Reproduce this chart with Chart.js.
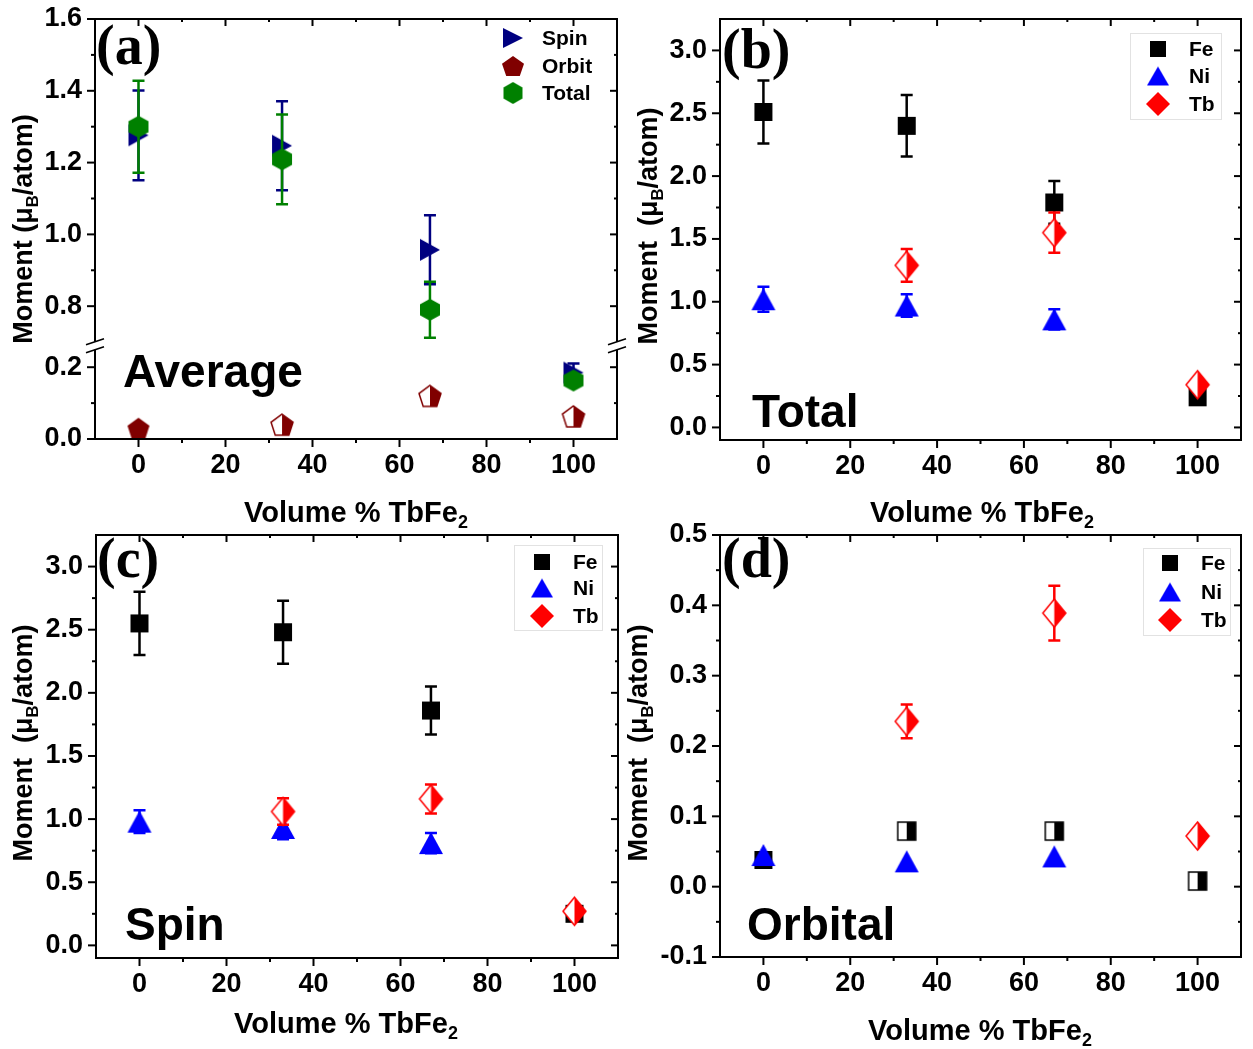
<!DOCTYPE html>
<html>
<head>
<meta charset="utf-8">
<script src="https://cdn.jsdelivr.net/npm/chart.js@4.4.1/dist/chart.umd.min.js"></script>
<style>
  html, body { margin: 0; padding: 0; background: #fff; }
  body { width: 1253px; height: 1049px; position: relative; overflow: hidden; }
  canvas { position: absolute; left: 0; top: 0; }
</style>
</head>
<body>
<canvas id="chartA" width="1253" height="1049"></canvas>
<canvas id="chartB" width="1253" height="1049"></canvas>
<canvas id="chartC" width="1253" height="1049"></canvas>
<canvas id="chartD" width="1253" height="1049"></canvas>
<script>
// ---- data (volume % TbFe2 on x) ----
const volumePct = [0, 33, 67, 100];
const halfFilled = [false, true, true, true];   // open-left / filled-right symbols

// (a) average
const avgSpin     = [1.276, 1.247, 0.957, 0.185];
const avgSpinErr  = [0.125, 0.124, 0.096, 0.025];
const avgOrbit    = [0.030, 0.040, 0.120, 0.063];
const avgTotal    = [1.300, 1.209, 0.790, 0.163];
const avgTotalErr = [0.128, 0.125, 0.078, 0.015];

// (b) total
const totFe    = [2.51, 2.40, 1.79, 0.24];
const totFeErr = [0.25, 0.245, 0.17, 0];
const totNi    = [1.02, 0.97, 0.86, null];
const totNiErr = [0.10, 0.09, 0.08, 0];
const totTb    = [null, 1.29, 1.55, 0.34];
const totTbErr = [0, 0.13, 0.16, 0];

// (c) spin
const spinFe    = [2.55, 2.48, 1.86, 0.25];
const spinFeErr = [0.25, 0.25, 0.19, 0];
const spinNi    = [0.98, 0.93, 0.81, null];
const spinNiErr = [0.09, 0.09, 0.08, 0];
const spinTb    = [null, 1.06, 1.16, 0.27];
const spinTbErr = [0, 0.105, 0.115, 0];

// (d) orbital
const orbFe    = [0.038, 0.079, 0.079, 0.008];
const orbNi    = [0.045, 0.036, 0.043, null];
const orbTb    = [null, 0.235, 0.389, 0.072];
const orbTbErr = [0, 0.024, 0.039, 0];

// ---- ticks ----
const xTickValues  = [0, 20, 40, 60, 80, 100];
const xMinorValues = [10, 30, 50, 70, 90];
const yHighTicks = [0.8, 1.0, 1.2, 1.4, 1.6];
const yHighMinor = [0.9, 1.1, 1.3, 1.5];
const yLowTicks  = [0.0, 0.2];
const yLowMinor  = [0.1];
const yMomTicks  = [0.0, 0.5, 1.0, 1.5, 2.0, 2.5, 3.0];
const yMomMinor  = [0.25, 0.75, 1.25, 1.75, 2.25, 2.75];
const yOrbTicks  = [-0.1, 0.0, 0.1, 0.2, 0.3, 0.4, 0.5];
const yOrbMinor  = [-0.05, 0.05, 0.15, 0.25, 0.35, 0.45];

const PAGE_W = 1253, PAGE_H = 1049;
const SANS = '"Liberation Sans", Arial, sans-serif';
const SERIF = '"Liberation Serif", "Times New Roman", serif';
const tickFont = { family: SANS, size: 27, weight: 'bold' };

const NAVY = '#000080', MAROON = '#800000', GREEN = '#008000';
const BLACK = '#000000', BLUE = '#0000ff', RED = '#ff0000';

// ---- symbols drawn into small canvases, used as pointStyle ----
function tracePath(ctx, shape, w, h) {
  ctx.beginPath();
  if (shape === 'square') {
    ctx.rect(0, 0, w, h);
  } else if (shape === 'triangle') {
    ctx.moveTo(w / 2, 0); ctx.lineTo(w, h); ctx.lineTo(0, h);
  } else if (shape === 'rtriangle') {
    ctx.moveTo(0, 0); ctx.lineTo(w, h / 2); ctx.lineTo(0, h);
  } else if (shape === 'diamond') {
    ctx.moveTo(w / 2, 0); ctx.lineTo(w, h / 2); ctx.lineTo(w / 2, h); ctx.lineTo(0, h / 2);
  } else {
    const n = shape === 'pentagon' ? 5 : 6;
    const pts = [];
    for (let k = 0; k < n; k++) {
      const a = -Math.PI / 2 + k * 2 * Math.PI / n;
      pts.push([Math.cos(a), Math.sin(a)]);
    }
    const xs = pts.map(p => p[0]), ys = pts.map(p => p[1]);
    const x0 = Math.min(...xs), x1 = Math.max(...xs), y0 = Math.min(...ys), y1 = Math.max(...ys);
    pts.forEach((p, k) => {
      const px = (p[0] - x0) / (x1 - x0) * w, py = (p[1] - y0) / (y1 - y0) * h;
      if (k) ctx.lineTo(px, py); else ctx.moveTo(px, py);
    });
  }
  ctx.closePath();
}

function makeMarker(shape, color, w, h, half) {
  const pad = 2;
  const c = document.createElement('canvas');
  c.width = w + pad * 2; c.height = h + pad * 2;
  const ctx = c.getContext('2d');
  ctx.translate(pad, pad);
  tracePath(ctx, shape, w, h);
  if (half) {
    ctx.fillStyle = '#fff';
    ctx.fill();
    ctx.save();
    ctx.clip();
    ctx.fillStyle = color;
    ctx.fillRect(w / 2, -pad, w, h + pad * 2);
    ctx.restore();
    tracePath(ctx, shape, w, h);
    ctx.strokeStyle = color;
    ctx.lineWidth = 1.5;
    ctx.stroke();
  } else {
    ctx.fillStyle = color;
    ctx.fill();
  }
  return c;
}

const sym = {
  spin:  makeMarker('rtriangle', NAVY, 20, 22),
  orbit: makeMarker('pentagon', MAROON, 22, 21),
  orbitHalf: makeMarker('pentagon', MAROON, 22, 21, true),
  total: makeMarker('hexagon', GREEN, 20, 22),
  fe: makeMarker('square', BLACK, 18, 18),
  feHalf: makeMarker('square', BLACK, 18, 18, true),
  ni: makeMarker('triangle', BLUE, 24, 22),
  tb: makeMarker('diamond', RED, 23, 28),
  tbHalf: makeMarker('diamond', RED, 23, 28, true)
};
const legSym = {
  spin: makeMarker('rtriangle', NAVY, 20, 20),
  orbit: makeMarker('pentagon', MAROON, 22, 20),
  total: makeMarker('hexagon', GREEN, 19, 22),
  fe: makeMarker('square', BLACK, 16, 16),
  ni: makeMarker('triangle', BLUE, 22, 19),
  tb: makeMarker('diamond', RED, 24, 24)
};

// ---- datasets ----
function series(values, errors, keep) {
  const pts = [];
  values.forEach((v, i) => {
    if (v === null || (keep && !keep(v))) return;
    pts.push({ x: volumePct[i], y: v, err: errors ? errors[i] : 0, half: halfFilled[i] });
  });
  return pts;
}

function dataset(label, data, color, full, half, order, yAxisID) {
  return {
    label, data, order, yAxisID: yAxisID || 'y',
    errorColor: color,
    showLine: false, clip: false,
    pointRadius: 11,
    pointStyle: c => (c.raw && c.raw.half && half) ? half : full
  };
}

// ---- plugins ----
const errorBars = {
  id: 'errorBars',
  beforeDatasetDraw(chart, args) {
    const ds = chart.data.datasets[args.index];
    const meta = args.meta;
    const yScale = chart.scales[meta.yAxisID];
    const ctx = chart.ctx;
    ctx.save();
    ctx.strokeStyle = ds.errorColor;
    ctx.lineWidth = 2.5;
    ds.data.forEach((p, i) => {
      if (!p.err) return;
      const x = meta.data[i].x;
      const top = yScale.getPixelForValue(p.y + p.err);
      const bot = yScale.getPixelForValue(p.y - p.err);
      ctx.beginPath();
      ctx.moveTo(x, top); ctx.lineTo(x, bot);
      ctx.moveTo(x - 6, top); ctx.lineTo(x + 6, top);
      ctx.moveTo(x - 6, bot); ctx.lineTo(x + 6, bot);
      ctx.stroke();
    });
    ctx.restore();
  }
};

const frameTicks = {
  id: 'frameTicks',
  afterDraw(chart, args, opts) {
    const { ctx, chartArea: a } = chart;
    const seg = (x1, y1, x2, y2) => { ctx.beginPath(); ctx.moveTo(x1, y1); ctx.lineTo(x2, y2); ctx.stroke(); };
    ctx.save();
    ctx.strokeStyle = '#000';
    ctx.lineWidth = 2;
    seg(a.left - 1, a.top, a.right + 1, a.top);
    seg(a.left - 1, a.bottom, a.right + 1, a.bottom);

    if (opts.breakBetween) {
      const bd = chart.scales[opts.breakBetween[0]].bottom;
      [a.left, a.right].forEach(x => {
        seg(x, a.top, x, bd - 4);
        seg(x, bd + 4, x, a.bottom);
        ctx.lineWidth = 1.6;
        seg(x - 9, bd - 1, x + 9, bd - 7);
        seg(x - 9, bd + 7, x + 9, bd + 1);
        ctx.lineWidth = 2;
      });
    } else {
      seg(a.left, a.top, a.left, a.bottom);
      seg(a.right, a.top, a.right, a.bottom);
    }

    const xs = chart.scales.x;
    const xTick = (v, len) => {
      const px = xs.getPixelForValue(v);
      seg(px, a.bottom, px, a.bottom + len);
      seg(px, a.top, px, a.top + len - 1);
    };
    xTickValues.forEach(v => xTick(v, 8));
    xMinorValues.forEach(v => xTick(v, 4));

    opts.yAxes.forEach(ax => {
      const sc = chart.scales[ax.id];
      const yTick = (v, len) => {
        const py = sc.getPixelForValue(v);
        seg(a.left - len, py, a.left, py);
        seg(a.right - len + 1, py, a.right, py);
      };
      ax.major.forEach(v => yTick(v, 8));
      ax.minor.forEach(v => yTick(v, 4));
    });
    ctx.restore();
  }
};

function drawRich(ctx, parts, x, y, size, rotate) {
  const font = s => `bold ${s}px ${SANS}`;
  ctx.save();
  ctx.translate(x, y);
  if (rotate) ctx.rotate(-Math.PI / 2);
  let total = 0;
  parts.forEach(([t, sub]) => { ctx.font = font(sub ? size * 0.62 : size); total += ctx.measureText(t).width; });
  let cx = -total / 2;
  ctx.fillStyle = '#000';
  ctx.textAlign = 'left';
  ctx.textBaseline = 'alphabetic';
  parts.forEach(([t, sub]) => {
    ctx.font = font(sub ? size * 0.62 : size);
    ctx.fillText(t, cx, sub ? size * 0.22 : 0);
    cx += ctx.measureText(t).width;
  });
  ctx.restore();
}

const panelDecor = {
  id: 'panelDecor',
  afterDraw(chart, args, d) {
    const ctx = chart.ctx;
    ctx.save();
    ctx.fillStyle = '#000';
    ctx.textAlign = 'left';
    ctx.textBaseline = 'alphabetic';
    ctx.font = `bold 56px ${SERIF}`;
    ctx.fillText(d.tag.text, d.tag.x, d.tag.y);
    ctx.font = `bold 46px ${SANS}`;
    ctx.fillText(d.word.text, d.word.x, d.word.y);
    ctx.restore();

    drawRich(ctx, [['Volume % TbFe', false], ['2', true]], d.xTitle.x, d.xTitle.y, 29, false);
    drawRich(ctx, [[d.yTitle.text, false], ['B', true], ['/atom)', false]], d.yTitle.x, d.yTitle.y, 27, true);

    const lg = d.legend;
    ctx.save();
    if (lg.box) {
      ctx.strokeStyle = '#e2e2e2';
      ctx.lineWidth = 1;
      ctx.strokeRect(lg.box.x + 0.5, lg.box.y + 0.5, lg.box.w, lg.box.h);
    }
    ctx.font = `bold 21px ${SANS}`;
    ctx.fillStyle = '#000';
    ctx.textBaseline = 'middle';
    lg.items.forEach((it, i) => {
      const y = lg.rows[i];
      ctx.drawImage(it.img, lg.markerX - it.img.width / 2, y - it.img.height / 2);
      ctx.fillText(it.label, lg.textX, y + 1);
    });
    ctx.restore();
  }
};

// ---- scales ----
function xScale(area) {
  return {
    type: 'linear', position: 'bottom', min: -10, max: 110,
    afterBuildTicks: s => { s.ticks = xTickValues.map(v => ({ value: v })); },
    afterFit: s => { s.height = PAGE_H - area.b; s.paddingLeft = 0; s.paddingRight = 0; },
    grid: { display: false, drawTicks: false },
    border: { display: false },
    ticks: { color: '#000', font: tickFont, padding: 10, maxRotation: 0, autoSkip: false, callback: v => String(v) }
  };
}

function yScale(area, min, max, tickValues, extra) {
  return Object.assign({
    type: 'linear', position: 'left', min, max,
    afterBuildTicks: s => { s.ticks = tickValues.map(v => ({ value: v })); },
    afterFit: s => { s.width = area.l; s.paddingTop = 0; s.paddingBottom = 0; },
    grid: { display: false, drawTicks: false },
    border: { display: false },
    ticks: { color: '#000', font: tickFont, padding: 13, callback: v => v.toFixed(1) }
  }, extra || {});
}

function makeChart(id, area, scales, datasets, frame, decor) {
  return new Chart(document.getElementById(id), {
    type: 'scatter',
    data: { datasets },
    options: {
      responsive: false,
      animation: false,
      events: [],
      devicePixelRatio: 1,
      layout: { padding: { top: area.t, right: PAGE_W - area.r, left: 0, bottom: 0 } },
      scales,
      plugins: {
        legend: { display: false },
        tooltip: { enabled: false },
        frameTicks: frame,
        panelDecor: decor
      }
    },
    plugins: [errorBars, frameTicks, panelDecor]
  });
}

// ---- (a) average, broken y axis ----
const areaA = { l: 95, t: 19, r: 617, b: 439 };
const high = v => v >= 0.5, low = v => v < 0.5;
makeChart('chartA', areaA, {
  x: xScale(areaA),
  yLow: yScale(areaA, 0, 0.26, yLowTicks, { stack: 'brk', stackWeight: 0.26 }),
  yHigh: yScale(areaA, 0.69, 1.6, yHighTicks, { stack: 'brk', stackWeight: 0.91 })
}, [
  dataset('Spin', series(avgSpin, avgSpinErr, high), NAVY, sym.spin, null, 3, 'yHigh'),
  dataset('Spin', series(avgSpin, avgSpinErr, low), NAVY, sym.spin, null, 3, 'yLow'),
  dataset('Orbit', series(avgOrbit, null), MAROON, sym.orbit, sym.orbitHalf, 2, 'yLow'),
  dataset('Total', series(avgTotal, avgTotalErr, high), GREEN, sym.total, null, 1, 'yHigh'),
  dataset('Total', series(avgTotal, avgTotalErr, low), GREEN, sym.total, null, 1, 'yLow')
], {
  breakBetween: ['yHigh', 'yLow'],
  yAxes: [{ id: 'yHigh', major: yHighTicks, minor: yHighMinor }, { id: 'yLow', major: yLowTicks, minor: yLowMinor }]
}, {
  tag: { text: '(a)', x: 96, y: 64 },
  word: { text: 'Average', x: 123, y: 387 },
  xTitle: { x: 356, y: 522 },
  yTitle: { text: 'Moment (μ', x: 32, y: 229 },
  legend: {
    markerX: 513, textX: 542, rows: [38, 66, 93],
    items: [{ label: 'Spin', img: legSym.spin }, { label: 'Orbit', img: legSym.orbit }, { label: 'Total', img: legSym.total }]
  }
});

const elemLegend = [{ label: 'Fe', img: legSym.fe }, { label: 'Ni', img: legSym.ni }, { label: 'Tb', img: legSym.tb }];

// ---- (b) total ----
const areaB = { l: 720, t: 19, r: 1242, b: 440 };
makeChart('chartB', areaB, {
  x: xScale(areaB),
  y: yScale(areaB, -0.1, 3.25, yMomTicks)
}, [
  dataset('Fe', series(totFe, totFeErr), BLACK, sym.fe, null, 3),
  dataset('Ni', series(totNi, totNiErr), BLUE, sym.ni, null, 2),
  dataset('Tb', series(totTb, totTbErr), RED, sym.tb, sym.tbHalf, 1)
], {
  yAxes: [{ id: 'y', major: yMomTicks, minor: yMomMinor }]
}, {
  tag: { text: '(b)', x: 722, y: 68 },
  word: { text: 'Total', x: 752, y: 427 },
  xTitle: { x: 982, y: 522 },
  yTitle: { text: 'Moment  (μ', x: 657, y: 226 },
  legend: { box: { x: 1130, y: 33, w: 91, h: 86 }, markerX: 1158, textX: 1189, rows: [49, 76, 104], items: elemLegend }
});

// ---- (c) spin ----
const areaC = { l: 96, t: 535, r: 618, b: 958 };
makeChart('chartC', areaC, {
  x: xScale(areaC),
  y: yScale(areaC, -0.1, 3.25, yMomTicks)
}, [
  dataset('Fe', series(spinFe, spinFeErr), BLACK, sym.fe, null, 3),
  dataset('Ni', series(spinNi, spinNiErr), BLUE, sym.ni, null, 2),
  dataset('Tb', series(spinTb, spinTbErr), RED, sym.tb, sym.tbHalf, 1)
], {
  yAxes: [{ id: 'y', major: yMomTicks, minor: yMomMinor }]
}, {
  tag: { text: '(c)', x: 97, y: 577 },
  word: { text: 'Spin', x: 125, y: 940 },
  xTitle: { x: 346, y: 1033 },
  yTitle: { text: 'Moment  (μ', x: 32, y: 743 },
  legend: { box: { x: 514, y: 545, w: 88, h: 85 }, markerX: 542, textX: 573, rows: [562, 588, 616], items: elemLegend }
});

// ---- (d) orbital ----
const areaD = { l: 720, t: 535, r: 1241, b: 957 };
makeChart('chartD', areaD, {
  x: xScale(areaD),
  y: yScale(areaD, -0.1, 0.5, yOrbTicks)
}, [
  dataset('Fe', series(orbFe, null), BLACK, sym.fe, sym.feHalf, 3),
  dataset('Ni', series(orbNi, null), BLUE, sym.ni, null, 2),
  dataset('Tb', series(orbTb, orbTbErr), RED, sym.tb, sym.tbHalf, 1)
], {
  yAxes: [{ id: 'y', major: yOrbTicks, minor: yOrbMinor }]
}, {
  tag: { text: '(d)', x: 722, y: 577 },
  word: { text: 'Orbital', x: 747, y: 940 },
  xTitle: { x: 980, y: 1040 },
  yTitle: { text: 'Moment  (μ', x: 647, y: 743 },
  legend: { box: { x: 1143, y: 548, w: 87, h: 87 }, markerX: 1170, textX: 1201, rows: [563, 592, 620], items: elemLegend }
});
</script>
</body>
</html>
